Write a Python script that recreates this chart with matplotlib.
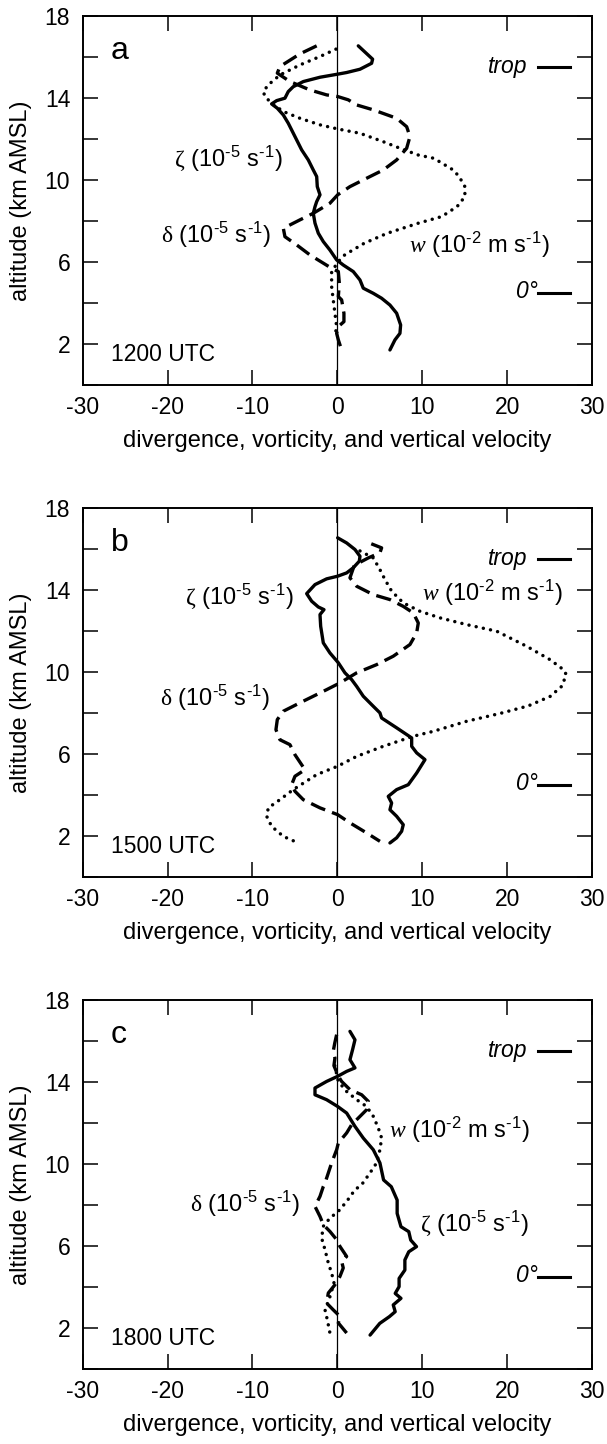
import matplotlib
matplotlib.use("Agg")
import matplotlib.pyplot as plt

plt.rcParams['font.family'] = ['Liberation Sans', 'DejaVu Sans']
plt.rcParams['axes.unicode_minus'] = False
plt.rcParams['mathtext.fontset'] = 'custom'
plt.rcParams['mathtext.default'] = 'regular'
plt.rcParams['mathtext.it'] = 'Liberation Serif:italic'
plt.rcParams['mathtext.sf'] = 'Liberation Serif'

# ---- data (value, altitude km) ----
# panel a, 1200 UTC
zeta_a_x = [2.47, 4.16, 4.04, 2.67, 1.10, 0.04, -2.04, -4.0, -5.19, -5.78, -6.17, -7.15, -7.74, -7.07,
            -6.36, -5.78, -4.99, -4.2, -3.42, -2.83, -2.43, -2.36, -2.04, -2.43, -2.63, -2.83, -2.63,
            -2.24, -1.65, -0.87, -0.08, 0.70, 1.88, 2.67, 3.06, 4.24, 5.22, 6.2, 6.99, 7.46, 7.38, 6.79, 6.2]
zeta_a_y = [16.54, 15.89, 15.69, 15.40, 15.24, 15.16, 15.01, 14.80, 14.55, 14.31, 13.99, 13.87, 13.71,
            13.50, 13.17, 12.77, 12.12, 11.47, 10.98, 10.49, 10.17, 9.68, 9.28, 8.95, 8.70, 8.38, 7.90,
            7.41, 7.0, 6.59, 6.11, 5.86, 5.54, 5.13, 4.73, 4.48, 4.24, 3.91, 3.51, 2.94, 2.53, 2.21, 1.72]
div_a_x = [-2.43, -4.4, -6.76, -7.07, -5.58, -3.22, -1.26, 0.04, 1.29, 2.28, 4.24, 6.99, 8.17, 8.56,
           8.17, 6.99, 5.41, 3.85, 1.49, 0.04, -0.87, -2.83, -4.4, -6.36, -6.17, -4.79, -3.22, -1.65,
           -0.67, 0.12, 0.24, 0.12, 0.51, 0.78, 0.78, 0.12, -0.08, 0.12, 0.51]
div_a_y = [16.54, 16.15, 15.53, 15.21, 14.80, 14.39, 14.15, 14.07, 13.91, 13.66, 13.42, 13.01, 12.60,
           12.12, 11.55, 10.98, 10.49, 10.17, 9.68, 9.28, 8.87, 8.38, 8.06, 7.65, 7.24, 6.84, 6.35, 5.95,
           5.70, 5.54, 4.97, 4.32, 4.16, 3.51, 3.10, 2.86, 2.53, 2.21, 1.72]
w_a_x = [-0.16, -2.04, -4.4, -6.76, -8.13, -8.72, -8.52, -7.74, -6.36, -4.4, -2.04, 0.04, 2.67, 5.41,
         7.38, 9.54, 11.38, 13.66, 14.35, 15.03, 15.03, 14.12, 12.3, 9.56, 5.9, 3.17, 0.89, 0.12, -0.67,
         -0.67, -0.48, -0.28, -0.08, -0.28]
w_a_y = [16.38, 16.02, 15.61, 15.12, 14.64, 14.31, 14.07, 13.74, 13.34, 13.01, 12.69, 12.49, 12.28, 11.87,
         11.55, 11.22, 11.06, 10.49, 10.17, 9.68, 9.19, 8.71, 8.22, 7.90, 7.41, 6.92, 6.36, 6.03, 5.54,
         4.81, 4.16, 3.51, 2.86, 2.37]

# panel b, 1500 UTC
zeta_b_x = [0.04, 1.10, 2.08, 2.67, 2.59, 1.88, 1.10, 0.04, -1.26, -2.63, -3.61, -3.02, -2.24, -1.57,
            -2.04, -1.96, -1.65, -0.87, 0.12, 0.90, 1.69, 2.28, 3.06, 4.24, 5.02, 5.22, 6.99, 8.76, 8.76,
            9.35, 10.33, 9.35, 8.36, 6.99, 6.0, 6.4, 6.2, 6.99, 7.77, 7.58, 6.99, 6.2]
zeta_b_y = [16.54, 16.29, 15.97, 15.64, 15.40, 15.08, 14.83, 14.67, 14.54, 14.26, 13.82, 13.45, 13.17,
            13.04, 12.80, 12.23, 11.42, 10.93, 10.45, 9.96, 9.63, 9.30, 8.82, 8.33, 8.01, 7.76, 7.28, 6.79,
            6.38, 6.06, 5.73, 5.08, 4.51, 4.27, 3.94, 3.62, 3.29, 2.97, 2.56, 2.24, 1.92, 1.67]
div_b_x = [4.0, 5.22, 5.02, 3.65, 2.0, 1.49, 2.28, 4.24, 6.2, 7.77, 8.95, 9.54, 9.35, 8.56, 6.59, 4.63,
           2.28, 0.31, -1.26, -3.22, -4.4, -6.36, -7.07, -7.23, -6.76, -5.58, -4.99, -3.81, -4.99, -5.38,
           -4.99, -4.01, -2.04, 0.04, 1.49, 3.45, 5.02]
div_b_y = [16.25, 16.05, 15.81, 15.56, 15.2, 14.59, 14.18, 13.77, 13.53, 13.20, 12.88, 12.39, 11.91, 11.34,
           10.77, 10.36, 9.96, 9.47, 9.14, 8.74, 8.50, 8.09, 7.68, 7.19, 6.70, 6.46, 5.97, 5.24, 4.92, 4.51,
           4.19, 3.78, 3.38, 3.05, 2.65, 2.16, 1.75]
w_b_x = [2.67, 4.24, 5.02, 5.61, 6.40, 7.77, 9.74, 12.09, 15.24, 18.77, 22.33, 25.07, 26.66, 26.98, 26.43,
         25.07, 22.5, 19.16, 15.24, 11.31, 8.95, 5.41, 2.28, 0.04, -2.43, -5.19, -6.76, -8.13, -8.32, -7.74,
         -6.36, -4.6]
w_b_y = [15.9, 15.56, 14.99, 14.51, 13.94, 13.37, 12.96, 12.64, 12.31, 11.99, 11.25, 10.60, 10.11, 9.87,
         9.30, 8.81, 8.35, 7.98, 7.60, 7.11, 6.87, 6.38, 5.89, 5.41, 5.0, 4.27, 3.78, 3.38, 2.97, 2.48,
         1.99, 1.67]

# panel c, 1800 UTC
zeta_c_x = [1.49, 2.08, 1.80, 1.49, 2.08, 1.10, 0.04, -1.26, -2.63, -2.63, -1.26, 0.04, 1.10, 2.08, 3.06,
            4.24, 5.02, 5.45, 6.36, 7.05, 7.05, 7.50, 8.42, 8.65, 9.33, 8.42, 7.96, 7.96, 7.28, 7.28, 6.82,
            7.50, 6.59, 6.82, 6.14, 5.0, 3.86]
zeta_c_y = [16.47, 16.06, 15.58, 15.09, 14.69, 14.52, 14.28, 14.03, 13.71, 13.38, 13.14, 12.81, 12.49,
            11.84, 11.27, 10.70, 10.06, 9.23, 8.90, 8.25, 7.60, 6.95, 6.71, 6.30, 5.98, 5.73, 5.33, 4.84,
            4.43, 4.03, 3.70, 3.46, 3.14, 2.81, 2.57, 2.24, 1.67]
div_c_x = [-0.08, -0.3, -0.48, -0.28, -0.4, 0.1, 0.51, 1.49, 2.87, 3.65, 3.45, 1.69, 1.10, 0.12, -0.08,
           -0.67, -1.06, -1.45, -1.65, -2.04, -2.63, -2.04, -1.65, -0.87, -0.08, 0.31, 1.10, 0.51, 0.70,
           0.31, -0.28, -1.06, -1.26, -0.48, 0.31, 0.12, 1.10]
div_c_y = [16.31, 15.9, 15.50, 15.17, 14.8, 14.3, 14.03, 13.63, 13.38, 13.06, 12.65, 11.92, 11.52, 11.03,
           10.70, 10.06, 9.57, 9.08, 8.91, 8.43, 7.94, 7.45, 7.05, 6.72, 6.32, 5.99, 5.50, 5.26, 4.94, 4.53,
           4.12, 3.72, 3.23, 2.90, 2.58, 2.26, 1.77]
w_c_x = [-0.3, 0.12, 1.10, 2.28, 3.45, 4.24, 4.83, 5.22, 5.02, 4.63, 3.85, 2.87, 2.08, 1.10, 0.12, -0.87,
         -1.65, -1.85, -1.45, -1.06, -0.67, -0.39, -0.9, -1.45, -1.18, -0.87]
w_c_y = [14.8, 14.03, 13.54, 13.14, 12.81, 12.33, 11.76, 11.27, 10.70, 10.06, 9.57, 9.0, 8.75, 8.18, 7.70,
         7.37, 6.97, 6.40, 5.83, 5.18, 4.69, 4.21, 3.5, 2.90, 2.42, 1.77]

panel_letters = ['a', 'b', 'c']
times = ['1200 UTC', '1500 UTC', '1800 UTC']
trop_alt = 15.5
freeze_alt = 4.5
xtick_vals = [-30, -20, -10, 0, 10, 20, 30]
ytick_vals = [0, 2, 4, 6, 8, 10, 12, 14, 16, 18]
ytick_labels = ['', '2', '', '6', '', '10', '', '14', '', '18']

# short hyphen in the exponents, like the original
zeta_lab = '$\\mathsf{\\zeta}$ (10$^{\u20105}$ s$^{\u20101}$)'
div_lab = '$\\mathsf{\\delta}$ (10$^{\u20105}$ s$^{\u20101}$)'
w_lab = '$\\mathit{w}$ (10$^{\u20102}$ m s$^{\u20101}$)'

# where the curve labels sit (x left, baseline altitude)
label_pos = [
    {'zeta': (-19.2, 10.65), 'div': (-20.8, 6.92), 'w': (8.4, 6.44)},
    {'zeta': (-17.9, 13.28), 'div': (-20.9, 8.36), 'w': (10.0, 13.45)},
    {'zeta': (9.8, 6.71), 'div': (-17.4, 7.68), 'w': (6.1, 11.26)},
]

series = [
    (zeta_a_x, zeta_a_y, div_a_x, div_a_y, w_a_x, w_a_y),
    (zeta_b_x, zeta_b_y, div_b_x, div_b_y, w_b_x, w_b_y),
    (zeta_c_x, zeta_c_y, div_c_x, div_c_y, w_c_x, w_c_y),
]

fig = plt.figure(figsize=(6.07, 14.44), dpi=100)
bottoms = [0.7332, 0.3925, 0.0517]

for i in range(3):
    ax = fig.add_axes([0.1362, bottoms[i], 0.8390, 0.2558])
    zx, zy, dx, dy, wx, wy = series[i]

    ax.axvline(0, color='black', lw=0.9, zorder=1)
    ax.plot(zx, zy, color='black', lw=2.4, solid_joinstyle='round', solid_capstyle='round', zorder=3)
    ax.plot(dx, dy, color='black', lw=2.4, linestyle=(0, (4.6, 2.2)), zorder=3)
    ax.plot(wx, wy, color='black', lw=2.5, linestyle=(0, (0.01, 2.1)),
            dash_capstyle='round', zorder=3)

    # tropopause and freezing level markers
    ax.plot([23.7, 27.4], [trop_alt, trop_alt], color='black', lw=2.2)
    ax.plot([23.7, 27.4], [freeze_alt, freeze_alt], color='black', lw=2.2)
    ax.text(22.4, trop_alt + 0.05, 'trop', style='italic', fontsize=16.5, ha='right', va='center')
    ax.text(23.6, freeze_alt + 0.05, '0°', style='italic', fontsize=16.5, ha='right', va='center')

    ax.text(-26.7, 15.9, panel_letters[i], fontsize=23, ha='left', va='baseline')
    ax.text(-26.7, 1.17, times[i], fontsize=16.5, ha='left', va='baseline')

    lp = label_pos[i]
    ax.text(lp['zeta'][0], lp['zeta'][1], zeta_lab, fontsize=17, ha='left', va='baseline')
    ax.text(lp['div'][0], lp['div'][1], div_lab, fontsize=17, ha='left', va='baseline')
    ax.text(lp['w'][0], lp['w'][1], w_lab, fontsize=17, ha='left', va='baseline')

    ax.set_xlim(-30, 30)
    ax.set_ylim(0, 18)
    ax.set_xticks(xtick_vals)
    ax.set_yticks(ytick_vals)
    ax.set_yticklabels(ytick_labels)
    ax.tick_params(direction='in', top=True, right=True, length=11, width=1.1, labelsize=16.5)
    ax.tick_params(axis='x', pad=8)
    ax.tick_params(axis='y', pad=9)
    for s in ax.spines.values():
        s.set_linewidth(1.4)
    ax.set_xlabel('divergence, vorticity, and vertical velocity', fontsize=17, labelpad=7.5)
    ax.set_ylabel('altitude (km AMSL)', fontsize=17, labelpad=9)

fig.savefig('out.png', dpi=100, facecolor='white')
